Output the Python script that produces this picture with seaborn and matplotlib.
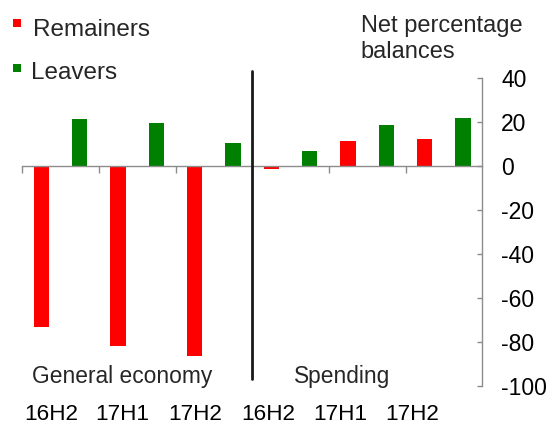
import matplotlib
matplotlib.use("Agg")
import matplotlib.pyplot as plt
import matplotlib.transforms as mtransforms
import seaborn as sns
import pandas as pd
from matplotlib.patches import Rectangle
from matplotlib.ticker import FixedLocator

# ---- data ----
sections = ["General economy", "General economy", "General economy",
            "Spending", "Spending", "Spending"]
periods = ["16H2", "17H1", "17H2", "16H2", "17H1", "17H2"]
remainers = [-73.3, -81.9, -86.7, -1.2, 11.6, 12.2]
leavers = [21.6, 19.8, 10.4, 7.0, 18.6, 22.1]
series_names = ["Remainers", "Leavers"]
series_colors = ["#FF0000", "#008000"]
y_ticks = [40, 20, 0, -20, -40, -60, -80, -100]

keys = [f"{s} {p}" for s, p in zip(sections, periods)]
df = pd.DataFrame({
    "key": keys * 2,
    "group": ["Remainers"] * len(keys) + ["Leavers"] * len(keys),
    "value": remainers + leavers,
})

sns.set_theme(style="white")
plt.rcParams["font.family"] = ["Liberation Sans", "DejaVu Sans"]
plt.rcParams["axes.unicode_minus"] = False

W, H = 551, 425
fig = plt.figure(figsize=(W / 100, H / 100), dpi=100)
ax = fig.add_axes([22.3 / W, 1 - 385.7 / H, (482.3 - 22.3) / W, (385.7 - 78.3) / H])

sns.barplot(data=df, x="key", y="value", hue="group", order=keys,
            hue_order=series_names, palette=series_colors, saturation=1,
            width=1.0, gap=0.6, dodge=True, ax=ax, legend=False,
            edgecolor="none", linewidth=0, errorbar=None)

ax.set_xlim(-0.5, len(keys) - 0.5)
ax.set_ylim(-100, 40)
ax.set_xlabel("")
ax.set_ylabel("")

grey = "#8c8c8c"
# y axis on right
ax.yaxis.tick_right()
ax.set_yticks(y_ticks)
ax.set_yticklabels([str(v) for v in y_ticks], fontsize=16.5)
ax.tick_params(axis="y", direction="in", length=3.5, width=1, color=grey,
               pad=13.5, labelcolor="black", right=True, left=False)
for s in ["top", "left"]:
    ax.spines[s].set_visible(False)
ax.spines["right"].set_color(grey)
ax.spines["right"].set_linewidth(1)
ax.spines["bottom"].set_position(("data", 0))
ax.spines["bottom"].set_color(grey)
ax.spines["bottom"].set_linewidth(1)

# x ticks at category boundaries
ax.set_xticks([])
ax.xaxis.set_minor_locator(FixedLocator([i - 0.5 for i in range(len(keys))]))
ax.tick_params(axis="x", which="minor", direction="out", length=5, width=1,
               color=grey, bottom=True)
ax.tick_params(axis="x", which="major", bottom=False, labelbottom=False)

# period labels
label_offsets = [-0.12, -0.19, -0.25, -0.29, -0.35, -0.41]
blend = mtransforms.blended_transform_factory(ax.transData, fig.transFigure)
for i, p in enumerate(periods):
    ax.text(i + label_offsets[i], 1 - 415 / H, p, transform=blend,
            ha="center", va="center", fontsize=16.2, color="black")

# separator line
fig.add_artist(plt.Line2D([251.7 / W, 251.7 / W], [1 - 71 / H, 1 - 379 / H],
                          color="#1a1a1a", linewidth=2))

# section labels
fig.text(122 / W, 1 - 377 / H, "General economy", ha="center", va="center", fontsize=16.4)
fig.text(342 / W, 1 - 377 / H, "Spending", ha="center", va="center", fontsize=16.4)

# axis title
fig.text(360.7 / W, 1 - 31.7 / H, "Net percentage", ha="left", va="baseline", fontsize=17)
fig.text(360.7 / W, 1 - 58 / H, "balances", ha="left", va="baseline", fontsize=17)

# legend
legend_y = [22.5, 68]
text_x = [33, 30.7]
text_base = [36, 79]
for name, col, yc, tx, tb in zip(series_names, series_colors, legend_y, text_x, text_base):
    fig.add_artist(Rectangle(((17 - 4) / W, 1 - (yc + 4) / H), 8 / W, 8 / H,
                             facecolor=col, edgecolor="none", transform=fig.transFigure))
    fig.text(tx / W, 1 - tb / H, name, ha="left", va="baseline", fontsize=17.5)

fig.savefig("out.png", dpi=100)
